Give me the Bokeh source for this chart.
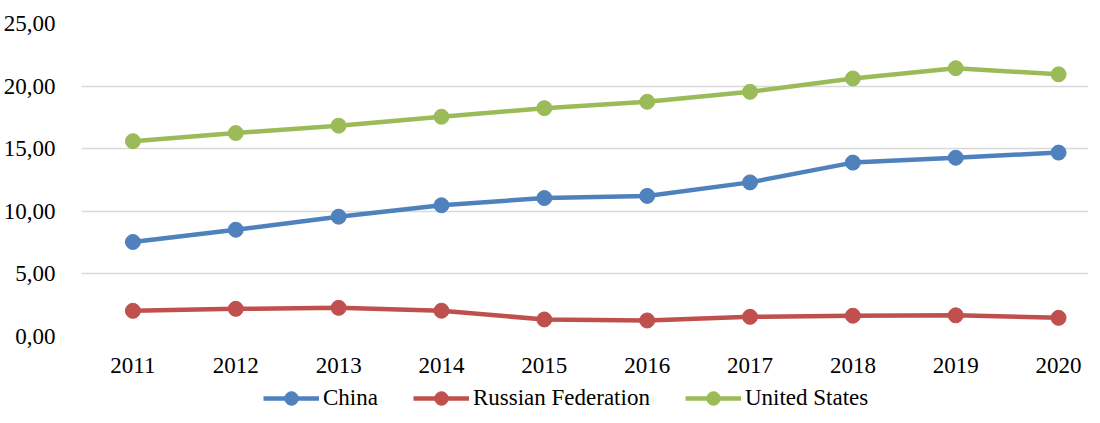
from bokeh.plotting import figure
from bokeh.layouts import column
from bokeh.models import FixedTicker, Range1d, Legend, LegendItem, CustomJSTickFormatter
from bokeh.embed import file_html
from bokeh.resources import INLINE

years = [2011, 2012, 2013, 2014, 2015, 2016, 2017, 2018, 2019, 2020]
year_labels = ["2011", "2012", "2013", "2014", "2015", "2016", "2017", "2018", "2019", "2020"]
china = [7.55, 8.53, 9.57, 10.48, 11.06, 11.23, 12.31, 13.89, 14.28, 14.69]
russia = [2.05, 2.21, 2.29, 2.06, 1.36, 1.28, 1.57, 1.66, 1.69, 1.49]
usa = [15.6, 16.25, 16.84, 17.55, 18.24, 18.75, 19.54, 20.61, 21.43, 20.94]
y_ticks = [0, 5, 10, 15, 20, 25]
y_tick_labels = ["0,00", "5,00", "10,00", "15,00", "20,00", "25,00"]
series_names = ["China", "Russian Federation", "United States"]
colors = ["#4F81BD", "#C0504D", "#9BBB59"]

FONT = "'Liberation Serif', 'Times New Roman', serif"

p = figure(
    frame_width=1007, frame_height=313,
    min_border_left=77, min_border_right=0, min_border_top=23, min_border_bottom=41,
    output_backend="svg", toolbar_location=None,
    x_range=Range1d(2010.5, 2010.5 + 1007 / 102.85),
    y_range=Range1d(0, 25),
)
p.outline_line_color = None
p.background_fill_color = "white"
p.border_fill_color = "white"

JS = "const i = tk.indexOf(Math.round(tick)); return i >= 0 ? lb[i] : '';"
p.xaxis.ticker = FixedTicker(ticks=years)
p.xaxis.formatter = CustomJSTickFormatter(args=dict(tk=years, lb=year_labels), code=JS)
p.yaxis.ticker = FixedTicker(ticks=y_ticks)
p.yaxis.formatter = CustomJSTickFormatter(args=dict(tk=y_ticks, lb=y_tick_labels), code=JS)

for ax in (p.xaxis[0], p.yaxis[0]):
    ax.axis_line_color = None
    ax.major_tick_line_color = None
    ax.minor_tick_line_color = None
    ax.major_label_text_font = FONT
    ax.major_label_text_font_size = "23px"
    ax.major_label_text_color = "black"
p.yaxis.major_label_standoff = 20
p.xaxis.major_label_standoff = 15

p.xgrid.grid_line_color = None
p.ygrid.grid_line_color = "#d9d9d9"
p.ygrid.grid_line_width = 1.5

for vals, col in zip([china, russia, usa], colors):
    p.line(years, vals, line_color=col, line_width=4.5)
    p.scatter(years, vals, size=15, fill_color=col, line_color=col)

# Legend strip underneath (same series drawn out of view so only legend glyphs show)
lf = figure(
    width=1084, height=38, min_border=0,
    output_backend="svg", toolbar_location=None,
    x_axis_location=None, y_axis_location=None,
    x_range=Range1d(0, 1), y_range=Range1d(0, 1),
)
lf.outline_line_color = None
lf.xgrid.grid_line_color = None
lf.ygrid.grid_line_color = None
items = []
for name, vals, col in zip(series_names, [china, russia, usa], colors):
    l = lf.line(years, vals, line_color=col, line_width=4.5)
    s = lf.scatter(years, vals, size=15, fill_color=col, line_color=col)
    items.append(LegendItem(label=name, renderers=[l, s]))

legend = Legend(
    items=items, orientation="horizontal", location=(182, 0),
    padding=0, margin=0, spacing=35, label_standoff=4,
    glyph_width=56, glyph_height=34, label_height=34,
    label_text_font=FONT, label_text_font_size="23px", label_text_color="black",
    border_line_color=None, background_fill_alpha=0,
)
lf.add_layout(legend, "center")

open("out.html", "w").write(file_html(column(p, lf, spacing=0), INLINE))
